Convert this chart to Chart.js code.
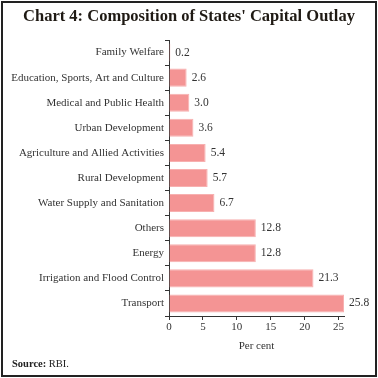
<!DOCTYPE html>
<html>
<head>
<meta charset="utf-8">
<script src="https://cdn.jsdelivr.net/npm/chart.js@4.4.1/dist/chart.umd.min.js"></script>
<style>
  html, body { margin: 0; padding: 0; background: #fff; }
  #wrap { position: relative; width: 378px; height: 378px; overflow: hidden; }
  #c { position: absolute; left: 0; top: 0; }
  #frame { position: absolute; left: 1px; top: 1px; width: 372px; height: 372px; border: 2px solid #222; pointer-events: none; }
  #title { position: absolute; left: 0; width: 378px; top: 6px; text-align: center;
           font-family: "Liberation Serif", serif; font-weight: bold; font-size: 16.5px; color: #1f1a14; }
  #source { position: absolute; left: 12px; top: 358px; font-family: "Liberation Serif", serif;
            font-size: 10.5px; color: #222; }
</style>
</head>
<body>
<div id="wrap">
  <canvas id="c" width="378" height="378"></canvas>
  <div id="title">Chart 4: Composition of States' Capital Outlay</div>
  <div id="source"><b>Source:</b> RBI.</div>
  <div id="frame"></div>
</div>
<script>
const categories = [
  "Family Welfare",
  "Education, Sports, Art and Culture",
  "Medical and Public Health",
  "Urban Development",
  "Agriculture and Allied Activities",
  "Rural Development",
  "Water Supply and Sanitation",
  "Others",
  "Energy",
  "Irrigation and Flood Control",
  "Transport"
];
const shares = [0.2, 2.6, 3.0, 3.6, 5.4, 5.7, 6.7, 12.8, 12.8, 21.3, 25.8];
const xTicks = [0, 5, 10, 15, 20, 25];
const xAxisTitle = "Per cent";

const labelFont = { family: "'Liberation Serif', serif", size: 11 };

const valueLabels = {
  id: 'valueLabels',
  afterDatasetsDraw(chart) {
    const ctx = chart.ctx;
    const meta = chart.getDatasetMeta(0);
    ctx.save();
    ctx.font = "11.5px 'Liberation Serif', serif";
    ctx.fillStyle = '#333';
    ctx.textAlign = 'left';
    ctx.textBaseline = 'middle';
    meta.data.forEach((bar, i) => {
      ctx.fillText(shares[i].toFixed(1), bar.x + 5, bar.y);
    });
    ctx.restore();
  }
};

new Chart(document.getElementById('c'), {
  type: 'bar',
  data: {
    labels: categories,
    datasets: [{
      data: shares,
      backgroundColor: '#F49494',
      borderColor: '#F7B0B0',
      borderWidth: 1,
      categoryPercentage: 0.72,
      barPercentage: 1.0
    }]
  },
  options: {
    indexAxis: 'y',
    responsive: false,
    animation: false,
    layout: { padding: { left: 0, right: 34, top: 40, bottom: 0 } },
    plugins: { legend: { display: false }, tooltip: { enabled: false }, title: { display: false } },
    scales: {
      y: {
        afterFit(scale) { scale.width = 169; },
        grid: { drawOnChartArea: false, drawTicks: true, tickLength: 4, color: '#333', offset: true },
        border: { display: true, color: '#333', width: 1 },
        ticks: { color: '#333', font: labelFont, padding: 1, autoSkip: false }
      },
      x: {
        min: 0,
        max: 25.8,
        afterFit(scale) { scale.height = 62; },
        afterBuildTicks(scale) { scale.ticks = xTicks.map(v => ({ value: v })); },
        grid: { drawOnChartArea: false, drawTicks: true, tickLength: 4, color: '#333' },
        border: { display: true, color: '#333', width: 1 },
        ticks: { color: '#333', font: labelFont, padding: 1 },
        title: { display: true, text: xAxisTitle, color: '#333', font: labelFont, padding: { top: 4, bottom: 25 } }
      }
    }
  },
  plugins: [valueLabels]
});
</script>
</body>
</html>
